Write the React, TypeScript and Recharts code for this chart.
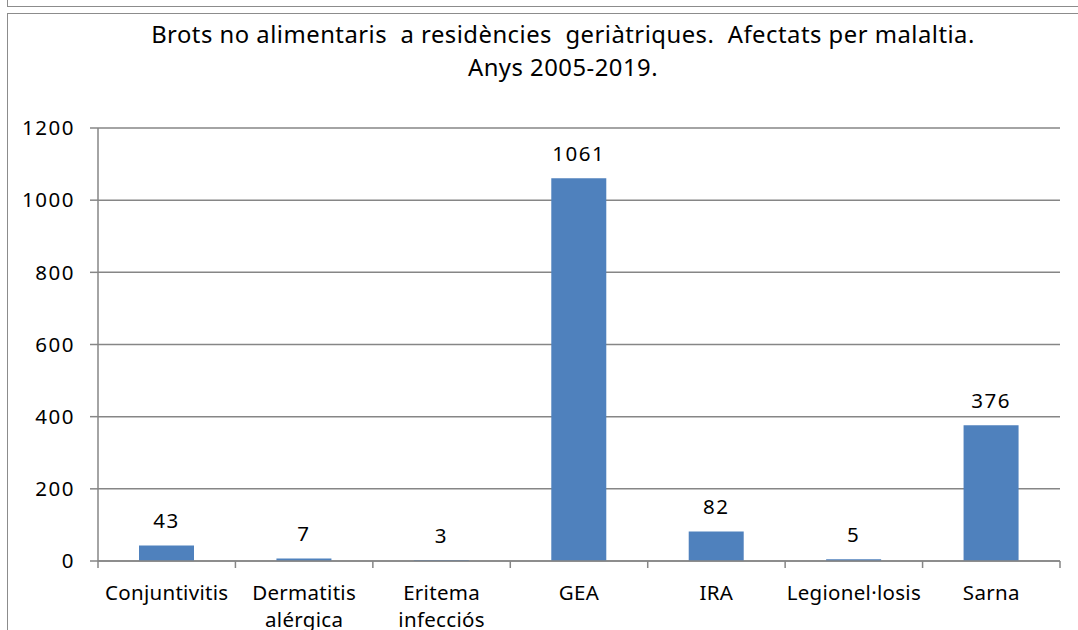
import { BarChart, Bar, XAxis, YAxis, CartesianGrid, LabelList } from "recharts";

const categories = [
  "Conjuntivitis",
  "Dermatitis alérgica",
  "Eritema infecciós",
  "GEA",
  "IRA",
  "Legionel·losis",
  "Sarna",
];
const affected = [43, 7, 3, 1061, 82, 5, 376];
const yTicks = [0, 200, 400, 600, 800, 1000, 1200];

const titleLine1 = "Brots no alimentaris  a residències  geriàtriques.  Afectats per malaltia.";
const titleLine2 = "Anys 2005-2019.";

const data = categories.map((name, i) => ({ name, value: affected[i] }));

const FONT = "'Noto Sans', 'Open Sans', sans-serif";
const GRID = "#868686";
const BAND = (1078 - 98 - 18) / categories.length;

function CategoryTick(props: any) {
  const { x, y, payload, index } = props;
  const half = payload && payload.offset ? payload.offset : BAND / 2;
  const top = y - 8;
  const lines = String(payload.value).split(" ");
  return (
    <g>
      <line x1={x - half} x2={x - half} y1={top} y2={top + 7} stroke={GRID} strokeWidth={1.5} />
      {index === categories.length - 1 && (
        <line x1={x + half} x2={x + half} y1={top} y2={top + 7} stroke={GRID} strokeWidth={1.5} />
      )}
      <text
        x={x}
        y={top + 39}
        textAnchor="middle"
        fontSize={20.5}
        letterSpacing={0.3}
        fontFamily={FONT}
        fill="#000"
      >
        {lines.map((l, i) => (
          <tspan key={i} x={x} dy={i === 0 ? 0 : 27}>
            {l}
          </tspan>
        ))}
      </text>
    </g>
  );
}

export default function App() {
  return (
    <div
      style={{
        position: "fixed",
        left: 0,
        top: 0,
        width: 1078,
        height: 630,
        background: "#fff",
        overflow: "hidden",
        fontFamily: FONT,
      }}
    >
      <div
        style={{
          position: "absolute",
          left: 7,
          top: -20,
          width: 1100,
          height: 26,
          borderLeft: "1.5px solid #8c8c8c",
          borderBottom: "1.5px solid #8c8c8c",
        }}
      />
      <div
        style={{
          position: "absolute",
          left: 7,
          top: 12.5,
          width: 1100,
          height: 700,
          border: "1.5px solid #8c8c8c",
        }}
      />
      <div
        style={{
          position: "absolute",
          left: 0,
          width: 1126,
          top: 18,
          textAlign: "center",
          fontSize: 23.8,
          letterSpacing: 0.5,
          lineHeight: "33px",
          whiteSpace: "pre",
          color: "#000",
        }}
      >
        {titleLine1}
        {"\n"}
        {titleLine2}
      </div>
      <div style={{ position: "absolute", left: 0, top: 0 }}>
        <BarChart
          width={1078}
          height={630}
          data={data}
          margin={{ top: 128, right: 18, bottom: 0, left: 8 }}
          barCategoryGap={41}
        >
          <CartesianGrid vertical={false} stroke={GRID} strokeWidth={1.5} />
          <XAxis
            dataKey="name"
            height={69}
            interval={0}
            axisLine={{ stroke: GRID, strokeWidth: 1.5 }}
            tickLine={false}
            tick={<CategoryTick />}
            tickSize={0}
            tickMargin={8}
          />
          <YAxis
            width={90}
            domain={[0, 1200]}
            ticks={yTicks}
            interval={0}
            axisLine={{ stroke: GRID, strokeWidth: 1.5 }}
            tickLine={{ stroke: GRID, strokeWidth: 1.5 }}
            tickSize={8}
            tickMargin={15}
            tick={{ fontSize: 20.5, fill: "#000", fontFamily: FONT, letterSpacing: 1.5 }}
          />
          <Bar dataKey="value" fill="#4F81BD" isAnimationActive={false}>
            <LabelList
              dataKey="value"
              position="top"
              offset={17}
              fontSize={20.5}
              letterSpacing={1.5}
              fontFamily={FONT}
              fill="#000"
            />
          </Bar>
        </BarChart>
      </div>
    </div>
  );
}
